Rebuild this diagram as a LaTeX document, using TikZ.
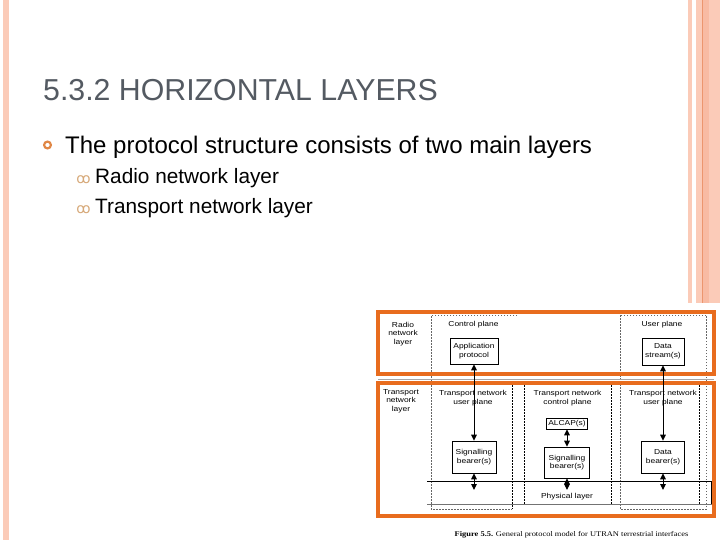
\documentclass[tikz,border=0pt]{standalone}
\usepackage{fontspec}
\setmainfont{Liberation Sans}
\newfontfamily\figfont[FakeStretch=1.17]{Liberation Sans}
\newfontfamily\capfont[FakeStretch=1.17]{Liberation Serif}
\newfontfamily\symfont{DejaVu Sans}
\usetikzlibrary{arrows.meta, positioning}
\definecolor{stripe}{RGB}{251,203,184}
\definecolor{stripedark}{RGB}{248,187,163}
\definecolor{stripeline}{RGB}{236,150,110}
\definecolor{layerorange}{RGB}{232,108,30}
\definecolor{titlegray}{RGB}{84,90,98}
\definecolor{bulletorange}{RGB}{224,135,70}
\definecolor{subbullet}{RGB}{214,168,120}

\begin{document}
\begin{tikzpicture}[x=1pt, y=-1pt,
  layerbox/.style={draw=layerorange, line width=4pt},
  planeline/.style={draw=black!60, line width=0.5pt, dash pattern=on 1.5pt off 1.5pt},
  columnline/.style={draw=black, line width=0.6pt, dash pattern=on 1.5pt off 1.5pt},
  figlabel/.style={font=\figfont\fontsize{7.2}{8.6}\selectfont, align=center, inner sep=0pt},
  blockbox/.style={figlabel, draw, line width=0.7pt},
  bidir/.style={{Triangle[length=6pt,width=5.6pt]}-{Triangle[length=6pt,width=5.6pt]}, line width=1pt},
  slidetext/.style={anchor=base west, inner sep=0pt}]
  \useasboundingbox (0,0) rectangle (720,540);
  % slide border stripes
  \fill[stripe] (3,0) rectangle (9,540);
  \fill[stripe] (688,0) rectangle (692,303);
  \fill[stripe] (696,0) rectangle (720,303);
  \fill[stripedark] (702.5,0) rectangle (709,303);
  \draw[stripeline, line width=0.8pt] (702.5,0) -- (702.5,303);
  % title and bullets
  \node[slidetext, text=titlegray, font=\fontsize{30.3}{34}\selectfont] (title) at (43,100.5) {5.3.2 HORIZONTAL LAYERS};
  \draw[bulletorange, line width=2.2pt] (47.5,145) circle (3.4);
  \node[slidetext, font=\fontsize{24}{28}\selectfont] (main) at (65,153.5) {The protocol structure consists of two main layers};
  \node[anchor=base, inner sep=0pt, text=subbullet, font=\symfont\fontsize{14}{14}\selectfont] (subA) at (83.5,184) {ꝏ};
  \node[slidetext, font=\fontsize{20.8}{24}\selectfont] (radio) at (95,184) {Radio network layer};
  \node[anchor=base, inner sep=0pt, text=subbullet, font=\symfont\fontsize{14}{14}\selectfont] (subB) at (83.5,214) {ꝏ};
  \node[slidetext, font=\fontsize{20.8}{24}\selectfont] (transport) at (95,214) {Transport network layer};

  % planes (dashed)
  \draw[planeline] (517,315) -- (431,315) -- (431,509) -- (512,509);
  \draw[planeline] (620,315) rectangle (706,509);
  \draw[columnline] (512,385) -- (512,509);
  \draw[columnline] (524,385) -- (524,504);
  \draw[columnline] (611,385) -- (611,504);
  \draw[columnline] (699,385) -- (699,504);
  % physical layer
  \draw[line width=0.8pt] (427,481) -- (711.5,481) -- (711.5,504);
  \draw[black!55, line width=0.6pt] (427,504) -- (711.5,504);
  \node[figlabel] (phys) at (567,496.5) {Physical layer};
  % layers
  \draw[black!35, line width=0.5pt] (378,379) -- (714,379);
  \draw[layerbox] (378,312) rectangle (714,374);
  \draw[layerbox] (378,383) rectangle (714,515.5);

  % radio network layer
  \node[figlabel] (rnl) at (403,334) {Radio\\network\\layer};
  \node[figlabel] (cplane) at (473.5,325) {Control plane};
  \node[figlabel] (uplane) at (662,325) {User plane};
  \node[blockbox, minimum width=48pt, minimum height=26pt] (app) at (474,351) {Application\\protocol};
  \node[blockbox, minimum width=42pt, minimum height=27pt] (data) at (663,351.5) {Data\\stream(s)};

  % transport network layer
  \node[figlabel] (tnl) at (401,401) {Transport\\network\\layer};
  \node[figlabel] (tnuL) at (473,398) {Transport network\\user plane};
  \node[figlabel] (tnc) at (567.5,398) {Transport network\\control plane};
  \node[figlabel] (tnuR) at (663,398) {Transport network\\user plane};
  \node[blockbox, minimum width=41pt, minimum height=11pt] (alcap) at (567,423.5) {ALCAP(s)};
  \node[blockbox, minimum width=44pt, minimum height=32pt] (sigL) at (474,457) {Signalling\\bearer(s)};
  \node[blockbox, minimum width=45pt, minimum height=31pt] (sigM) at (567,462.5) {Signalling\\bearer(s)};
  \node[blockbox, minimum width=43pt, minimum height=32pt] (dataB) at (663,457) {Data\\bearer(s)};
  \coordinate (physL) at (474,490);
  \coordinate (physM) at (567,490);
  \coordinate (physR) at (663,490);

  % arrows
  \draw[bidir] (app) -- (sigL);
  \draw[bidir] (sigL) -- (physL);
  \draw[bidir] (alcap) -- (sigM);
  \draw[bidir] (sigM) -- (physM);
  \draw[bidir] (data) -- (dataB);
  \draw[bidir] (dataB) -- (physR);

  \node[anchor=base, inner sep=0pt, font=\capfont\fontsize{7.2}{8}\selectfont] (caption) at (571.5,536.5) {\textbf{Figure 5.5.} General protocol model for UTRAN terrestrial interfaces};
\end{tikzpicture}
\end{document}
